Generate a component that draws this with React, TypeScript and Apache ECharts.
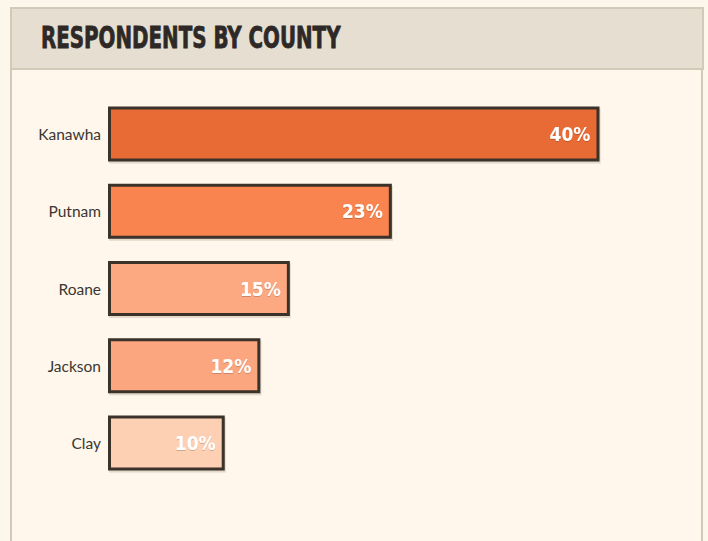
import React, { useEffect, useRef } from "react";
import * as echarts from "echarts";

const titleText = "RESPONDENTS BY COUNTY";
const counties = ["Kanawha", "Putnam", "Roane", "Jackson", "Clay"];
const shares = [40.0, 23.1, 14.8, 12.4, 9.5];
const barColors = ["#e86a35", "#f9844f", "#fca981", "#fba67e", "#fdd0b3"];

export default function App() {
  const ref = useRef<HTMLDivElement>(null);
  useEffect(() => {
    document.body.style.margin = "0";
    document.body.style.background = "#fdf6ea";
    const chart = echarts.init(ref.current!, null, { renderer: "svg" });
    chart.setOption({
      animation: false,
      backgroundColor: "#fdf6ea",
      graphic: [
        {
          type: "rect",
          z: -10,
          shape: { x: 11, y: 8, width: 691, height: 600 },
          style: { fill: "#fff7eb", stroke: "#d3c9b9", lineWidth: 2 },
        },
        {
          type: "rect",
          z: -9,
          shape: { x: 11, y: 8, width: 692, height: 61 },
          style: { fill: "#e6dfd1", stroke: "#d3c9b9", lineWidth: 2 },
        },
        {
          type: "text",
          x: 41,
          y: 38,
          scaleX: 0.735,
          style: {
            text: titleText,
            fontFamily: "DejaVu Sans Condensed",
            fontWeight: "bold",
            fontSize: 30,
            fill: "#2e2926",
            stroke: "#2e2926",
            lineWidth: 0.8,
            textAlign: "left",
            textVerticalAlign: "middle",
          },
        },
      ],
      grid: { left: 108, right: 108.5, top: 95.4, bottom: 59.4, containLabel: false },
      xAxis: { type: "value", min: 0, max: 40, show: false },
      yAxis: {
        type: "category",
        data: counties,
        inverse: true,
        axisLine: { show: false },
        axisTick: { show: false },
        splitLine: { show: false },
        axisLabel: {
          margin: 7,
          fontFamily: "Lato",
          fontSize: 15.5,
          fontWeight: "normal",
          color: "#3b3631",
        },
      },
      series: [
        {
          type: "bar",
          barWidth: 55,
          data: shares.map((v, i) => ({
            value: v,
            itemStyle: { color: barColors[i] },
          })),
          itemStyle: {
            borderColor: "#3a302a",
            borderWidth: 3,
            shadowColor: "rgba(60,40,20,0.15)",
            shadowOffsetX: 1,
            shadowOffsetY: 2,
            shadowBlur: 0,
          },
          label: {
            show: true,
            position: "insideRight",
            distance: 9,
            formatter: (p: any) => Math.round(p.value) + "%",
            fontFamily: "DejaVu Sans Condensed",
            fontWeight: "bold",
            fontSize: 19,
            color: "#ffffff",
            textShadowColor: "rgba(0,0,0,0.2)",
            textShadowOffsetY: 1,
            textShadowBlur: 1,
          },
        },
      ],
    });
    return () => chart.dispose();
  }, []);
  return <div ref={ref} style={{ width: 708, height: 541 }} />;
}
